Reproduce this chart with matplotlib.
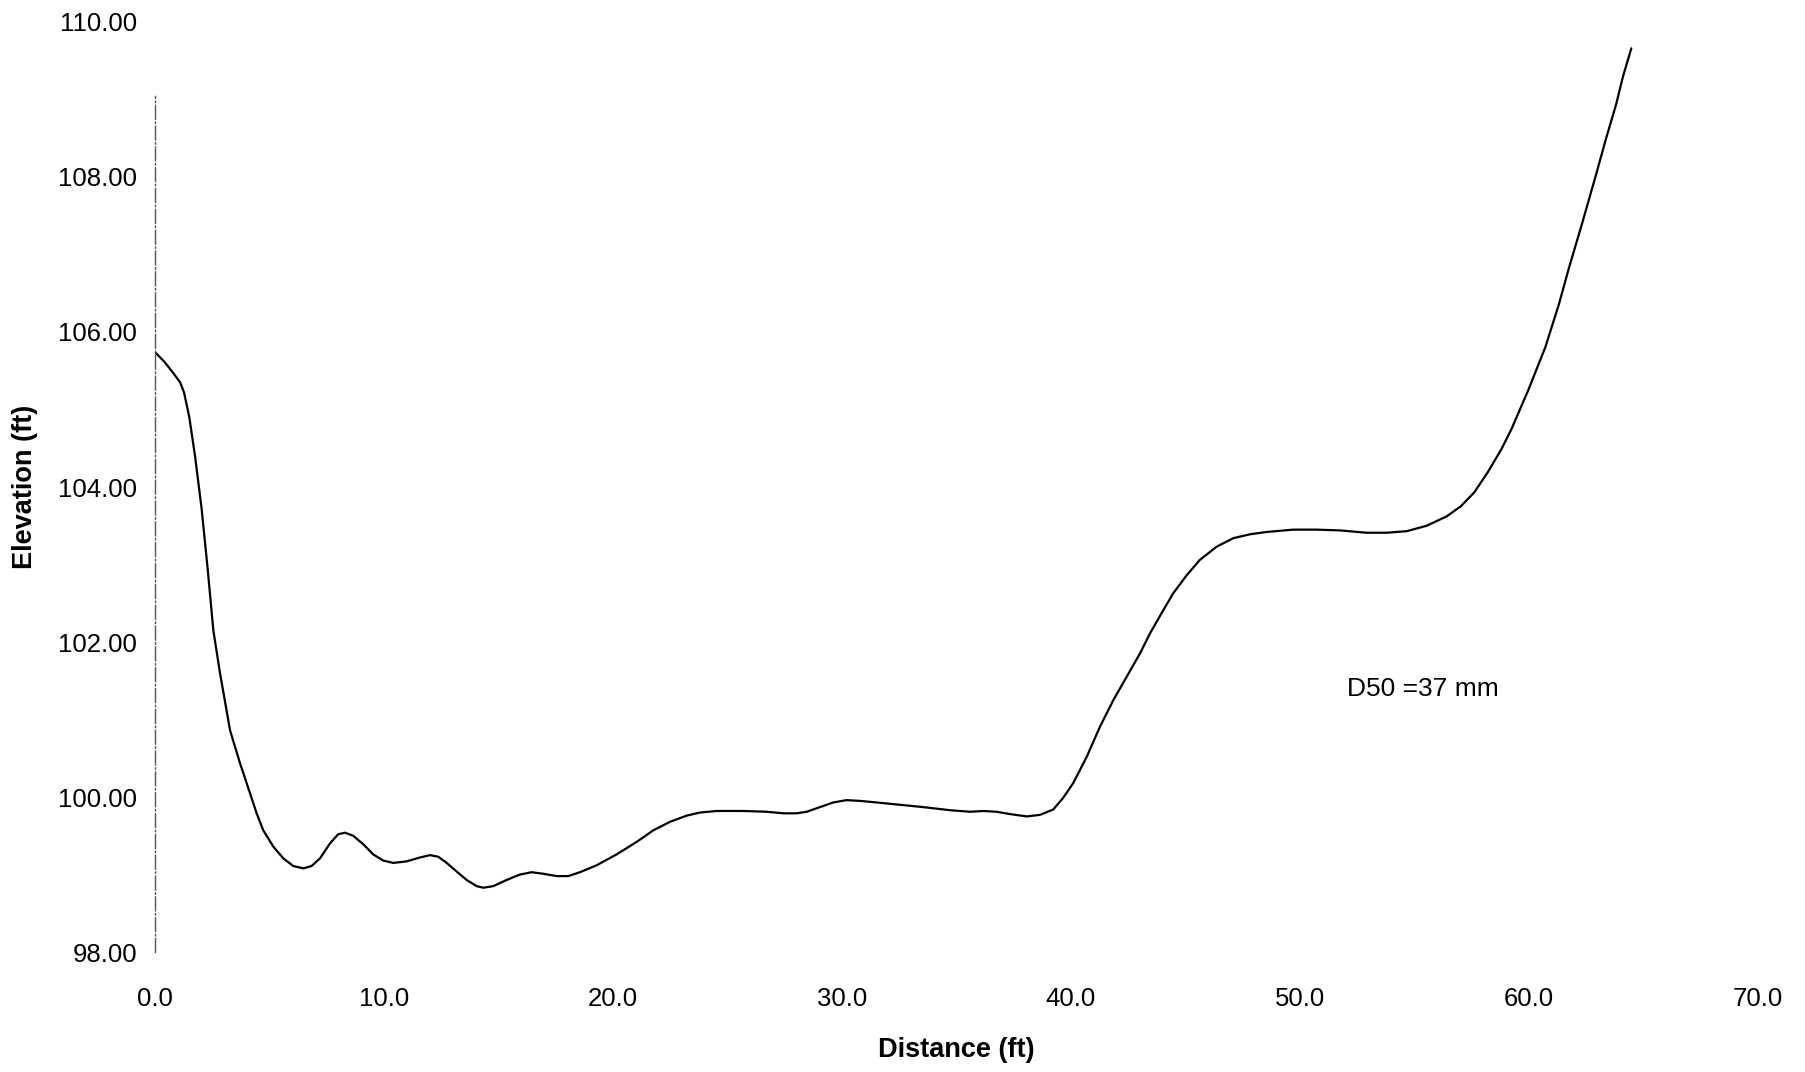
import numpy as np
import matplotlib
matplotlib.use('Agg')
import matplotlib.pyplot as plt

plt.rcParams['font.family'] = ['Liberation Sans', 'DejaVu Sans']

# cross-section survey, distance (ft) vs elevation (ft)
distance = [0.0, 0.4, 0.8, 1.1, 1.27, 1.5, 1.75, 2.03, 2.3, 2.55, 2.84, 3.28, 3.71,
            4.15, 4.44, 4.73, 5.17, 5.6, 6.04, 6.48, 6.84, 7.21, 7.64, 8.0, 8.3,
            8.66, 9.1, 9.53, 9.97, 10.41, 10.99, 11.57, 12.01, 12.37, 12.74, 13.17,
            13.61, 14.05, 14.34, 14.77, 15.36, 15.94, 16.45, 16.96, 17.54, 18.05,
            18.56, 19.29, 20.16, 21.03, 21.76, 22.49, 23.22, 23.8, 24.53, 25.69,
            26.71, 27.44, 28.02, 28.46, 29.04, 29.62, 30.2, 30.79, 31.51, 32.53,
            33.55, 34.72, 35.59, 36.17, 36.75, 37.34, 38.07, 38.65, 39.23, 39.66,
            40.1, 40.69, 41.27, 41.85, 42.43, 43.01, 43.45, 44.03, 44.47, 45.05,
            45.63, 46.36, 47.09, 47.82, 48.55, 49.71, 50.73, 51.75, 52.91, 53.78,
            54.66, 55.53, 56.4, 57.02, 57.61, 58.2, 58.8, 59.24, 59.97, 60.71,
            61.3, 61.74, 62.33, 62.92, 63.37, 63.81, 64.1, 64.47]
elevation = [105.74, 105.62, 105.47, 105.35, 105.22, 104.9, 104.4, 103.74, 102.95,
             102.15, 101.6, 100.86, 100.44, 100.05, 99.79, 99.57, 99.36, 99.21,
             99.11, 99.08, 99.11, 99.21, 99.4, 99.52, 99.54, 99.5, 99.39, 99.26,
             99.18, 99.15, 99.17, 99.22, 99.25, 99.23, 99.15, 99.04, 98.93, 98.85,
             98.83, 98.85, 98.93, 99.0, 99.03, 99.01, 98.98, 98.98, 99.03, 99.12,
             99.26, 99.42, 99.57, 99.68, 99.76, 99.8, 99.82, 99.82, 99.81, 99.79,
             99.79, 99.81, 99.87, 99.93, 99.96, 99.95, 99.93, 99.9, 99.87, 99.83,
             99.81, 99.82, 99.81, 99.78, 99.75, 99.77, 99.84, 99.99, 100.18,
             100.52, 100.91, 101.25, 101.55, 101.85, 102.11, 102.41, 102.63,
             102.86, 103.06, 103.23, 103.34, 103.39, 103.42, 103.45, 103.45,
             103.44, 103.41, 103.41, 103.43, 103.5, 103.62, 103.75, 103.93,
             104.19, 104.49, 104.75, 105.25, 105.8, 106.35, 106.82, 107.41,
             108.02, 108.5, 108.94, 109.29, 109.66]

x_ticks = [0, 10, 20, 30, 40, 50, 60, 70]
y_ticks = [98, 100, 102, 104, 106, 108, 110]

fig = plt.figure(figsize=(18.06, 10.72), dpi=100)
ax = fig.add_axes([0.0858, 0.1119, 0.8876, 0.8676])

ax.plot(distance, elevation, color='black', linewidth=1.6,
        solid_joinstyle='round', solid_capstyle='round')

ax.set_xlim(0, 70)
ax.set_ylim(98, 110)
ax.set_xticks(x_ticks)
ax.set_xticklabels([f'{v:.1f}' for v in x_ticks])
ax.set_yticks(y_ticks)
ax.set_yticklabels([f'{v:.2f}' for v in y_ticks])
ax.tick_params(axis='x', length=0, pad=25, labelsize=18.5)
ax.tick_params(axis='y', length=0, pad=13, labelsize=18.5)

for s in ['top', 'right', 'bottom']:
    ax.spines[s].set_visible(False)
ax.spines['left'].set_bounds(98, 109.05)
ax.spines['left'].set_color('#555555')
ax.spines['left'].set_linewidth(1.0)
ax.spines['left'].set_linestyle((0, (10, 2, 1, 2)))

ax.set_xlabel('Distance (ft)', fontsize=19.5, fontweight='bold')
ax.xaxis.set_label_coords(0.5, -0.105)
ax.xaxis.label.set_va('center')
ax.set_ylabel('Elevation (ft)', fontsize=19.5, fontweight='bold')
ax.yaxis.set_label_coords(-0.081, 0.5)
ax.yaxis.label.set_va('center')

ax.text(52.05, 101.4, 'D50 =37 mm', fontsize=19, va='center', ha='left')

fig.savefig('out.png', dpi=100)
